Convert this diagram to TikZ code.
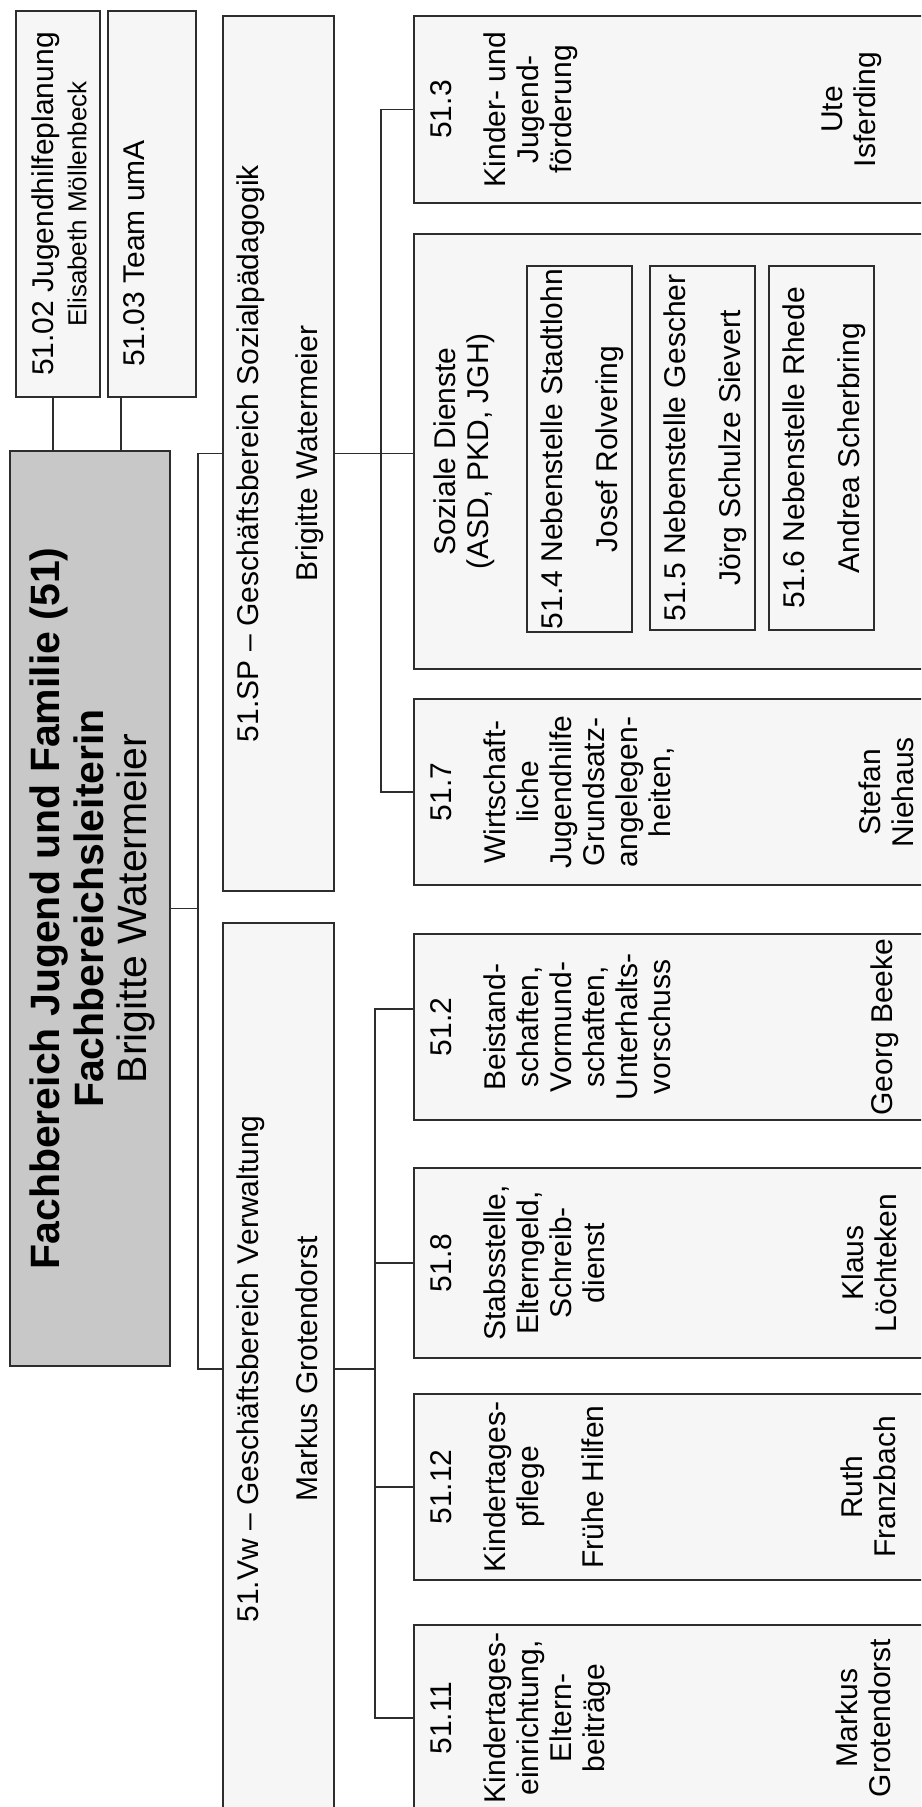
\documentclass[tikz,border=0pt]{standalone}
\usepackage{fontspec}
\setsansfont{Liberation Sans}
\definecolor{unitfill}{RGB}{246,246,246}
\definecolor{headfill}{RGB}{200,200,200}
\definecolor{frameline}{RGB}{45,45,45}

\begin{document}
\begin{tikzpicture}[
  x=1pt, y=-1pt,
  font=\sffamily,
  unit/.style={
    rectangle, draw=frameline, line width=2pt, fill=unitfill,
    anchor=north west, inner sep=0pt
  },
  headbox/.style={unit, fill=headfill},
  unittext/.style={
    rotate=90, anchor=north, align=center, inner sep=0pt,
    font=\sffamily\fontsize{30}{33}\selectfont
  },
  titletext/.style={unittext, font=\sffamily\fontsize{41}{43.5}\selectfont},
  link/.style={draw=frameline, line width=1.9pt}
]
\useasboundingbox (0,0) rectangle (921,1807);
\clip (0,0) rectangle (921,1807);

% =====================================================================
% Fachbereich and staff units
% =====================================================================
\node[headbox, minimum width=160pt, minimum height=915pt] (main) at (9,450) {};
\node[titletext] at ([xshift=21]main.west)
  {{\bfseries Fachbereich Jugend und Familie (51)}\\{\bfseries Fachbereichsleiterin}\\Brigitte Watermeier};

\node[unit, minimum width=84pt, minimum height=386pt] (b5102) at (15,10) {};
\node[unittext] at ([xshift=16.5]b5102.west)
  {51.02 Jugendhilfeplanung\\{\fontsize{26}{30}\selectfont Elisabeth Möllenbeck}};

\node[unit, minimum width=88pt, minimum height=386pt] (b5103) at (107,10) {};
\node[unittext] at ([xshift=16.5,yshift=-49.5]b5103.west) {51.03 Team umA};

% =====================================================================
% Geschaeftsbereiche
% =====================================================================
\node[unit, minimum width=111pt, minimum height=875pt] (sp) at (222,15) {};
\node[unittext] at ([xshift=14.5]sp.west)
  {51.SP – Geschäftsbereich Sozialpädagogik\\[26pt]Brigitte Watermeier};

\node[unit, minimum width=111pt, minimum height=892pt] (vw) at (222,922) {};
\node[unittext] at ([xshift=14.5]vw.west)
  {51.Vw – Geschäftsbereich Verwaltung\\[26pt]Markus Grotendorst};

% =====================================================================
% Sachgebiete Sozialpaedagogik
% =====================================================================
\node[unit, minimum width=547pt, minimum height=187pt] (b513) at (413,15) {};
\node[unittext] at ([xshift=17.5]b513.west) {51.3\\[21pt]Kinder- und\\Jugend-\\förderung};
\node[unittext] at ([xshift=408.5]b513.west) {Ute\\Isferding};

\node[unit, minimum width=547pt, minimum height=435pt] (soz) at (413,233) {};
\node[unittext] at ([xshift=20.5]soz.west) {Soziale Dienste\\(ASD, PKD, JGH)};

\node[unit, minimum width=105pt, minimum height=366pt] (b514) at (526,265) {};
\node[unittext] at ([xshift=14.5]b514.west) {51.4 Nebenstelle Stadtlohn\\[22pt]Josef Rolvering};

\node[unit, minimum width=105pt, minimum height=364pt] (b515) at (649,265) {};
\node[unittext] at ([xshift=14.5]b515.west) {51.5 Nebenstelle Gescher\\[22pt]Jörg Schulze Sievert};

\node[unit, minimum width=105pt, minimum height=364pt] (b516) at (768,265) {};
\node[unittext] at ([xshift=14.5]b516.west) {51.6 Nebenstelle Rhede\\[22pt]Andrea Scherbring};

\node[unit, minimum width=547pt, minimum height=186pt] (b517) at (413,698) {};
\node[unittext] at ([xshift=17.5]b517.west)
  {51.7\\[21pt]Wirtschaft-\\liche\\Jugendhilfe\\Grundsatz-\\angelegen-\\heiten,};
\node[unittext] at ([xshift=445.5]b517.west) {Stefan\\Niehaus};

% =====================================================================
% Sachgebiete Verwaltung
% =====================================================================
\node[unit, minimum width=547pt, minimum height=186pt] (b512) at (413,933) {};
\node[unittext] at ([xshift=17.5]b512.west)
  {51.2\\[21pt]Beistand-\\schaften,\\Vormund-\\schaften,\\Unterhalts-\\vorschuss};
\node[unittext] at ([xshift=457.5]b512.west) {Georg Beeke};

\node[unit, minimum width=547pt, minimum height=190pt] (b518) at (413,1167) {};
\node[unittext] at ([xshift=17.5]b518.west) {51.8\\[21pt]Stabsstelle,\\Elterngeld,\\Schreib-\\dienst};
\node[unittext] at ([xshift=428.5]b518.west) {Klaus\\Löchteken};

\node[unit, minimum width=547pt, minimum height=186pt] (b5112) at (413,1393) {};
\node[unittext] at ([xshift=17.5]b5112.west) {51.12\\[21pt]Kindertages-\\pflege\\[32pt]Frühe Hilfen};
\node[unittext] at ([xshift=427.5]b5112.west) {Ruth\\Franzbach};

\node[unit, minimum width=547pt, minimum height=186pt] (b5111) at (413,1624) {};
\node[unittext] at ([xshift=17.5]b5111.west) {51.11\\[21pt]Kindertages-\\einrichtung,\\Eltern-\\beiträge};
\node[unittext] at ([xshift=422.5]b5111.west) {Markus\\Grotendorst};

% =====================================================================
% Connectors
% =====================================================================
\coordinate (stabA) at ([xshift=-5]b5102.south);
\coordinate (stabB) at ([xshift=-31]b5103.south);
\draw[link] (stabA) -- (stabA |- main.north);
\draw[link] (stabB) -- (stabB |- main.north);

\coordinate (spine) at ([xshift=27]main.east);
\draw[link] (main.east) -- (spine);
\draw[link] (sp.west) -| (spine) |- (vw.west);

\coordinate (spbus) at ([xshift=46]sp.east);
\draw[link] (sp.east) -- (sp.east -| soz.west);
\draw[link] (b513.west) -| (spbus) |- (b517.west);

\coordinate (vwbus) at ([xshift=40]vw.east);
\draw[link] (vw.east) -- (vwbus);
\draw[link] ([yshift=18]b512.west) -| (vwbus) |- (b5111.west);
\draw[link] (b518.west) -- (b518.west -| vwbus);
\draw[link] (b5112.west) -- (b5112.west -| vwbus);

\end{tikzpicture}
\end{document}
